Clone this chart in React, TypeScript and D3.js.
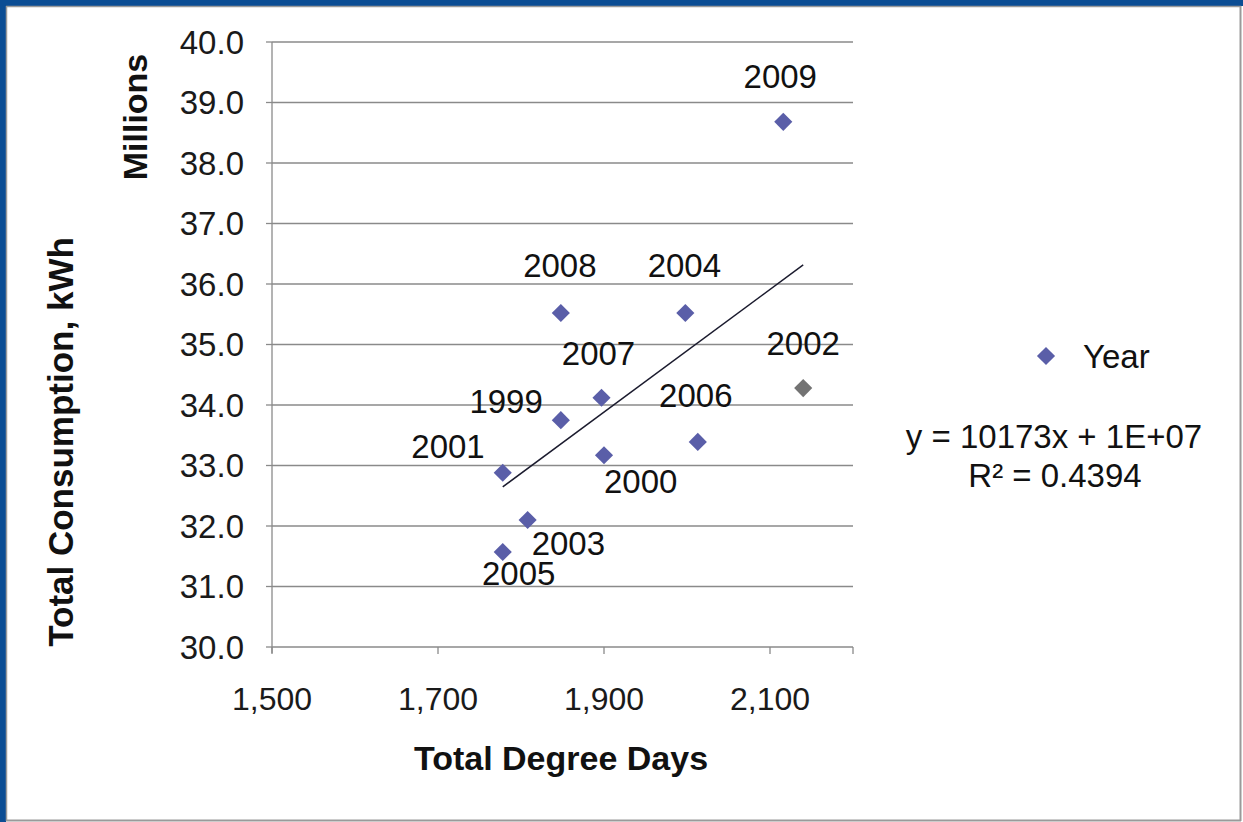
import React from "react";
import * as d3 from "d3";

const years = ["1999", "2000", "2001", "2002", "2003", "2004", "2005", "2006", "2007", "2008", "2009"];
const degreeDays = [1848, 1900, 1778, 2140, 1808, 1998, 1778, 2013, 1897, 1848, 2116];
const consumption = [33.75, 33.17, 32.88, 34.28, 32.1, 35.52, 31.57, 33.39, 34.12, 35.52, 38.68];
// label placement relative to the point: [dx, dy, anchor]
const labelPlacement: [number, number, string][] = [
  [-18, -7, "end"],
  [0, 38, "start"],
  [-18, -15, "end"],
  [0, -33, "middle"],
  [4, 35, "start"],
  [-1, -36, "middle"],
  [16, 33, "middle"],
  [-2, -35, "middle"],
  [-3, -33, "middle"],
  [-1, -36, "middle"],
  [-3, -34, "middle"],
];
const xTicks = [1500, 1700, 1900, 2100];
const yTicks = [30, 31, 32, 33, 34, 35, 36, 37, 38, 39, 40];
const legendLabel = "Year";
const equationText = "y = 10173x + 1E+07";
const r2Text = "R² = 0.4394";

const W = 1243;
const H = 822;
const FONT = "'Liberation Sans', Arial, sans-serif";

export default function App() {
  const x = d3.scaleLinear().domain([1500, 2200]).range([272, 853]);
  const y = d3.scaleLinear().domain([30, 40]).range([647, 42]);
  const diamond = d3.symbol().type(d3.symbolDiamond2 || d3.symbolDiamond).size(210)();

  const mx = d3.mean(degreeDays)!;
  const my = d3.mean(consumption)!;
  let sxy = 0, sxx = 0;
  degreeDays.forEach((dv, i) => {
    sxy += (dv - mx) * (consumption[i] - my);
    sxx += (dv - mx) * (dv - mx);
  });
  const slope = sxy / sxx;
  const icpt = my - slope * mx;
  const [x0, x1] = d3.extent(degreeDays) as [number, number];
  const trend = d3.line<number>().x((d) => x(d)).y((d) => y(icpt + slope * d))([x0, x1]);

  const fmtX = d3.format(",");
  const fmtY = d3.format(".1f");
  const pointColor = "#5a5ea8";

  return (
    <svg width={W} height={H} style={{ position: "absolute", left: 0, top: 0, background: "#fff" }} fontFamily={FONT}>
      <rect x={0} y={0} width={W} height={H} fill="#ffffff" />
      {/* frame */}
      <rect x={0} y={0} width={W} height={6} fill="#0b4d94" />
      <rect x={0} y={0} width={6} height={H} fill="#0b4d94" />
      <line x1={6} y1={6.5} x2={1241} y2={6.5} stroke="#9a9a9a" strokeWidth={1.5} />
      <line x1={6.5} y1={6} x2={6.5} y2={821} stroke="#9a9a9a" strokeWidth={1.5} />
      <line x1={1240.5} y1={6} x2={1240.5} y2={821} stroke="#9a9a9a" strokeWidth={2} />
      <line x1={6} y1={820.5} x2={1241} y2={820.5} stroke="#9a9a9a" strokeWidth={2} />

      {/* gridlines */}
      {yTicks.map((t) => (
        <line key={"g" + t} x1={x(1500)} x2={x(2200)} y1={y(t)} y2={y(t)} stroke="#8a8a8a" strokeWidth={1.3} />
      ))}
      {/* axes */}
      <line x1={x(1500)} x2={x(1500)} y1={y(40)} y2={y(30) + 6} stroke="#8a8a8a" strokeWidth={1.3} />
      {yTicks.map((t) => (
        <line key={"yt" + t} x1={x(1500) - 6} x2={x(1500)} y1={y(t)} y2={y(t)} stroke="#8a8a8a" strokeWidth={1.3} />
      ))}
      {xTicks.map((t) => (
        <line key={"xt" + t} x1={x(t)} x2={x(t)} y1={y(30)} y2={y(30) + 7} stroke="#8a8a8a" strokeWidth={1.3} />
      ))}
      <line x1={x(2200)} x2={x(2200)} y1={y(30)} y2={y(30) + 7} stroke="#8a8a8a" strokeWidth={1.3} />

      {/* tick labels */}
      {yTicks.map((t) => (
        <text key={"yl" + t} x={244} y={y(t) + 11.5} textAnchor="end" fontSize={33} fill="#1a1a1a">
          {fmtY(t)}
        </text>
      ))}
      {xTicks.map((t) => (
        <text key={"xl" + t} x={x(t)} y={710} textAnchor="middle" fontSize={32} fill="#1a1a1a">
          {fmtX(t)}
        </text>
      ))}

      {/* titles */}
      <text x={561} y={770} textAnchor="middle" fontSize={34} fontWeight="bold" fill="#111">
        Total Degree Days
      </text>
      <text transform={`translate(73,442) rotate(-90)`} textAnchor="middle" fontSize={35} fontWeight="bold" fill="#111">
        Total Consumption, kWh
      </text>
      <text transform={`translate(147,117) rotate(-90)`} textAnchor="middle" fontSize={34} fontWeight="bold" fill="#111">
        Millions
      </text>

      {/* trendline */}
      <path d={trend || ""} stroke="#1b1b2e" strokeWidth={1.5} fill="none" />

      {/* points */}
      {degreeDays.map((dv, i) => (
        <path
          key={"p" + i}
          d={diamond || ""}
          transform={`translate(${x(dv)},${y(consumption[i])})`}
          fill={years[i] === "2002" ? "#737373" : pointColor}
        />
      ))}
      {/* data labels */}
      {degreeDays.map((dv, i) => (
        <text
          key={"l" + i}
          x={x(dv) + labelPlacement[i][0]}
          y={y(consumption[i]) + labelPlacement[i][1]}
          textAnchor={labelPlacement[i][2] as any}
          fontSize={33}
          fill="#111"
        >
          {years[i]}
        </text>
      ))}

      {/* legend */}
      <path d={diamond || ""} transform="translate(1046,356)" fill={pointColor} />
      <text x={1083} y={368} fontSize={33} fill="#111">
        {legendLabel}
      </text>
      <text x={1054} y={448} textAnchor="middle" fontSize={33} fill="#111">
        {equationText}
      </text>
      <text x={1055} y={487} textAnchor="middle" fontSize={33} fill="#111">
        {r2Text}
      </text>
    </svg>
  );
}
